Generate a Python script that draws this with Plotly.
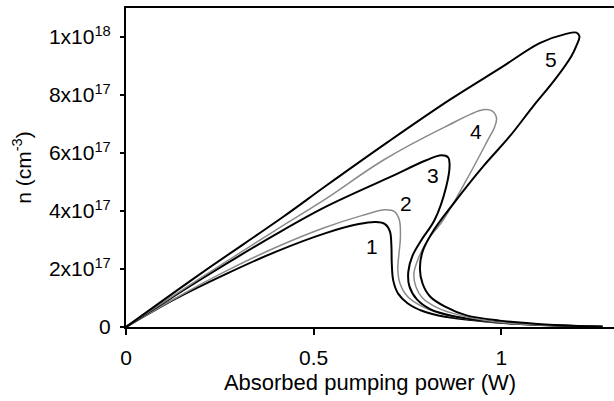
import plotly.graph_objects as go

# Curve data: absorbed pumping power (W) and carrier density n (units of 1e17 cm^-3)
p1 = [0, 0.13, 0.27, 0.40, 0.53, 0.62, 0.665, 0.69, 0.703, 0.707, 0.708, 0.712, 0.725, 0.75, 0.79, 0.85, 0.95, 1.05, 1.15, 1.27]
n1 = [0, 0.96, 1.85, 2.6, 3.23, 3.55, 3.62, 3.55, 3.3, 2.8, 2.2, 1.6, 1.15, 0.82, 0.55, 0.35, 0.2, 0.1, 0.05, 0.01]

p2 = [0, 0.13, 0.27, 0.40, 0.53, 0.63, 0.69, 0.715, 0.728, 0.731, 0.727, 0.724, 0.73, 0.75, 0.79, 0.85, 0.95, 1.05, 1.15, 1.27]
n2 = [0, 0.98, 1.95, 2.75, 3.43, 3.85, 4.04, 3.98, 3.7, 3.1, 2.5, 2.0, 1.5, 1.05, 0.7, 0.42, 0.21, 0.1, 0.05, 0.01]

p3 = [0, 0.2, 0.4, 0.53, 0.7, 0.8, 0.84, 0.858, 0.862, 0.853, 0.822, 0.787, 0.763, 0.752, 0.755, 0.775, 0.81, 0.87, 0.95, 1.05, 1.15, 1.27]
n3 = [0, 1.65, 3.2, 4.13, 5.15, 5.75, 5.92, 5.85, 5.6, 4.84, 3.69, 3.0, 2.45, 1.9, 1.4, 0.95, 0.62, 0.38, 0.22, 0.1, 0.05, 0.01]

p4 = [0, 0.2, 0.4, 0.53, 0.685, 0.85, 0.951, 0.975, 0.987, 0.982, 0.964, 0.907, 0.845, 0.804, 0.78, 0.767, 0.772, 0.79, 0.83, 0.89, 0.96, 1.05, 1.15, 1.27]
n4 = [0, 1.7, 3.35, 4.4, 5.75, 6.9, 7.49, 7.45, 7.2, 6.9, 6.45, 5.07, 3.69, 3.0, 2.4, 1.85, 1.4, 1.0, 0.66, 0.4, 0.22, 0.1, 0.05, 0.01]

p5 = [0, 0.2, 0.419, 0.532, 0.7, 0.862, 1.0, 1.102, 1.17, 1.2, 1.208, 1.2, 1.186, 1.142, 1.084, 1.022, 0.951, 0.875, 0.818, 0.79, 0.783, 0.79, 0.81, 0.85, 0.907, 0.995, 1.128, 1.27]
n5 = [0, 1.85, 3.8, 4.86, 6.4, 7.83, 8.95, 9.79, 10.1, 10.15, 10.02, 9.7, 9.33, 8.52, 7.6, 6.57, 5.53, 4.3, 3.3, 2.6, 2.0, 1.5, 1.05, 0.7, 0.4, 0.22, 0.08, 0.01]

curve_names = ["1", "2", "3", "4", "5"]
curve_colors = ["black", "#8a8a8a", "black", "#8a8a8a", "black"]
curve_widths = [2, 1.5, 2, 1.5, 2]

# label positions (W, 1e17 cm^-3)
label_p = [0.654, 0.745, 0.818, 0.933, 1.133]
label_n = [2.76, 4.26, 5.24, 6.74, 9.22]

ytick_vals = [0, 2, 4, 6, 8, 10]
ytick_text = ["0", "2x10<sup>17</sup>", "4x10<sup>17</sup>", "6x10<sup>17</sup>", "8x10<sup>17</sup>", "1x10<sup>18</sup>"]
xtick_vals = [0, 0.5, 1]
xtick_text = ["0", "0.5", "1"]

SCALE = 1e17
FONT = "Liberation Sans, Arial, Helvetica, sans-serif"

fig = go.Figure()
all_p = [p1, p2, p3, p4, p5]
all_n = [n1, n2, n3, n4, n5]
for i in range(5):
    fig.add_trace(go.Scatter(
        x=all_p[i], y=[v * SCALE for v in all_n[i]],
        mode="lines", line=dict(color=curve_colors[i], width=curve_widths[i], shape="spline", smoothing=1.0),
        name=curve_names[i], showlegend=False, hoverinfo="skip"))

for i in range(5):
    fig.add_annotation(x=label_p[i], y=label_n[i] * SCALE, text=curve_names[i], showarrow=False,
                       font=dict(family=FONT, size=21, color="black"))

fig.update_layout(
    width=614, height=401,
    margin=dict(l=126, r=0, t=8, b=74),
    paper_bgcolor="white", plot_bgcolor="white",
    font=dict(family=FONT, size=21, color="black"),
    xaxis=dict(range=[0, 1.3], tickvals=xtick_vals, ticktext=xtick_text,
               showline=True, linecolor="black", linewidth=2, mirror=True,
               ticks="outside", ticklen=6, tickwidth=1.5, tickcolor="black",
               ticklabelstandoff=5,
               showgrid=False, zeroline=False,
               title=dict(text="Absorbed pumping power (W)", standoff=6,
                          font=dict(family=FONT, size=22))),
    yaxis=dict(range=[0, 11 * SCALE], tickvals=[v * SCALE for v in ytick_vals], ticktext=ytick_text,
               showline=True, linecolor="black", linewidth=2, mirror=False,
               ticks="outside", ticklen=4, tickwidth=1.5, tickcolor="black",
               ticklabelstandoff=5,
               showgrid=False, zeroline=False,
               title=dict(text="n (cm<sup>-3</sup>)", standoff=12,
                          font=dict(family=FONT, size=21))),
)

fig.write_html("out.html")
